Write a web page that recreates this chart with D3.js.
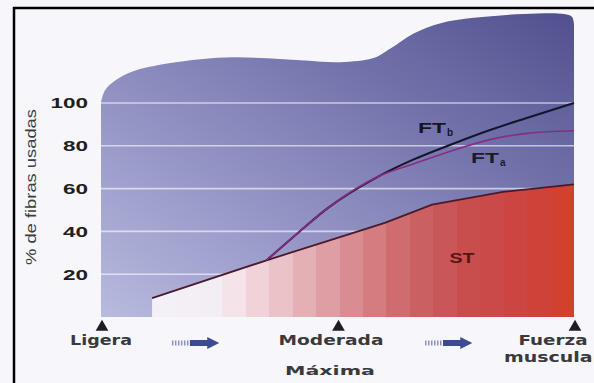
<!DOCTYPE html>
<html><head><meta charset="utf-8">
<script src="https://cdn.jsdelivr.net/npm/d3@7"></script>
<style>body{margin:0;background:#f7f7fb}svg{display:block}</style>
</head><body><script>
const W = 594, H = 383;

// % de fibras usadas, eje vertical
const yTicks = [20, 40, 60, 80, 100];
// Intensidad del esfuerzo (0 = ligera, 50 = moderada, 100 = fuerza máxima)
const effortLevels = [0, 50, 100];
const effortLabels = [["Ligera"], ["Moderada"], ["Fuerza", "muscular"]];
const effortArrows = [[15, 25], [68.5, 78.5]];

// Reclutamiento acumulado por tipo de fibra [intensidad, %]
const stData  = [[10.8, 8.8], [35, 26.5], [50, 37], [60, 44], [70, 52.5], [85, 58.5], [100, 62]];
const ftaData = [[35, 26.5], [42, 40], [48, 51], [58.5, 65.5], [66, 71.5], [73.9, 77.5], [82.4, 83], [90, 85.8], [100, 87]];
const ftbData = [[35, 26.5], [42, 40], [48, 51], [58.5, 65.5], [66, 73.5], [73.9, 80.5], [82.4, 87.5], [90, 93], [100, 100]];

// Contorno superior del fondo morado [intensidad, %]
const blobTop = [[0, 100.5], [0.85, 106], [3, 110.5], [6.8, 114.8], [14, 118.4], [21, 120.5], [28, 121.4],
  [35.2, 120.9], [42.2, 120], [50.6, 119.1], [57.6, 121], [61.2, 125.5], [66.1, 132.5], [71.8, 137.3],
  [78.8, 139.8], [89.4, 141.6], [97.9, 141.6], [99.6, 140.2], [100, 136.7]];

// Colores de las franjas del área ST, de izquierda a derecha
const stBands = ["#f3f1f7", "#f3eff5", "#f3eef4", "#f4e4ea", "#f0d2d8", "#eac2c8", "#e4b0b6", "#de9ea4",
  "#d98d92", "#d47c80", "#cf6c70", "#cb6062", "#c95658", "#c84e4e", "#c94a48", "#cb4642", "#ce423a", "#d2402f"];

const svg = d3.select("body").append("svg").attr("width", W).attr("height", H);

const x = d3.scaleLinear().domain([0, 100]).range([101, 574]);
const y = d3.scaleLinear().domain([0, 100]).range([317, 103]);

const defs = svg.append("defs");
const pg = defs.append("linearGradient").attr("id", "purple")
  .attr("x1", 1).attr("y1", 0).attr("x2", 0).attr("y2", 1);
pg.append("stop").attr("offset", 0).attr("stop-color", "#50508f");
pg.append("stop").attr("offset", 0.45).attr("stop-color", "#8080b6");
pg.append("stop").attr("offset", 1).attr("stop-color", "#b8badf");

const rg = defs.append("linearGradient").attr("id", "red")
  .attr("gradientUnits", "userSpaceOnUse")
  .attr("x1", x(stData[0][0])).attr("x2", x(100)).attr("y1", 0).attr("y2", 0);
stBands.forEach((c, i) => {
  rg.append("stop").attr("offset", i / stBands.length).attr("stop-color", c);
  rg.append("stop").attr("offset", (i + 1) / stBands.length).attr("stop-color", c);
});

// Marco
svg.append("rect").attr("x", 0).attr("y", 0).attr("width", W).attr("height", H).attr("fill", "#f7f7fb");
svg.append("path").attr("d", `M14,${H}V8H${W}`).attr("fill", "none").attr("stroke", "#000").attr("stroke-width", 2.5);

// Fondo morado
const topLine = d3.line().x(d => x(d[0])).y(d => y(d[1])).curve(d3.curveCatmullRom);
svg.append("path")
  .attr("d", topLine(blobTop) + `L${x(100)},${y(0)}L${x(0)},${y(0)}Z`)
  .attr("fill", "url(#purple)");

// Líneas de referencia
svg.append("g").selectAll("line").data(yTicks).join("line")
  .attr("x1", x(0)).attr("x2", x(100))
  .attr("y1", d => y(d)).attr("y2", d => y(d))
  .attr("stroke", "#ffffff").attr("stroke-opacity", 0.6).attr("stroke-width", 1.6);

// Área ST
const area = d3.area().x(d => x(d[0])).y0(y(0)).y1(d => y(d[1]));
svg.append("path").datum(stData).attr("d", area).attr("fill", "url(#red)");

const line = d3.line().x(d => x(d[0])).y(d => y(d[1]));
const curve = d3.line().x(d => x(d[0])).y(d => y(d[1])).curve(d3.curveMonotoneX);

svg.append("path").datum(stData).attr("d", line)
  .attr("fill", "none").attr("stroke", "#4a1a2a").attr("stroke-width", 1.8);
svg.append("path").datum(ftbData).attr("d", curve)
  .attr("fill", "none").attr("stroke", "#15152a").attr("stroke-width", 2);
svg.append("path").datum(ftaData).attr("d", curve)
  .attr("fill", "none").attr("stroke", "#8a2c80").attr("stroke-width", 1.6);

// Etiquetas de las curvas
function fiberLabel(xPos, yPos, sub, fill) {
  svg.append("text").attr("x", xPos).attr("y", yPos).text("FT")
    .attr("font-family", "Liberation Sans, Arial, sans-serif").attr("font-weight", "bold")
    .attr("font-size", 15).attr("fill", fill)
    .attr("textLength", 28).attr("lengthAdjust", "spacingAndGlyphs");
  svg.append("text").attr("x", xPos + 29).attr("y", yPos + 3).text(sub)
    .attr("font-family", "Liberation Sans, Arial, sans-serif").attr("font-weight", "bold")
    .attr("font-size", 10).attr("fill", fill);
}
fiberLabel(418, 133, "b", "#16161e");
fiberLabel(471, 163, "a", "#1e1a2e");
svg.append("text").attr("x", 462).attr("y", 263).attr("text-anchor", "middle").text("ST")
  .attr("font-family", "Liberation Sans, Arial, sans-serif").attr("font-weight", "bold")
  .attr("font-size", 14).attr("fill", "#5a1214")
  .attr("textLength", 25).attr("lengthAdjust", "spacingAndGlyphs");

// Eje vertical
svg.append("g").selectAll("text").data(yTicks).join("text")
  .attr("x", 88).attr("y", d => y(d)).attr("dy", "0.36em")
  .attr("text-anchor", "end").text(d => d)
  .attr("font-family", "Liberation Sans, Arial, sans-serif").attr("font-weight", "bold")
  .attr("font-size", 15).attr("fill", "#221e1e")
  .attr("textLength", d => String(d).length * 12.5).attr("lengthAdjust", "spacingAndGlyphs");

svg.append("text")
  .attr("transform", "translate(36,187) rotate(-90)")
  .attr("text-anchor", "middle").text("% de fibras usadas")
  .attr("font-family", "Liberation Sans Narrow, Arial Narrow, sans-serif")
  .attr("font-size", 15).attr("fill", "#3c3c44")
  .attr("textLength", 156).attr("lengthAdjust", "spacingAndGlyphs");

// Eje horizontal: marcas, etiquetas y flechas
const tri = d3.symbol(d3.symbolTriangle).size(70);
svg.append("g").selectAll("path").data(effortLevels).join("path")
  .attr("d", tri).attr("transform", d => `translate(${x(d) + 1},${327})`)
  .attr("fill", "#1e1e22");

const labelFont = "DejaVu Sans, Verdana, sans-serif";
const labelWidths = { "Ligera": 62, "Moderada": 105, "Fuerza": 69, "muscular": 98, "Máxima": 90 };
effortLevels.forEach((lv, i) => {
  effortLabels[i].forEach((t, j) => {
    const cx = i === 2 ? 553 : i === 1 ? 331 : x(lv);
    svg.append("text").attr("x", cx).attr("y", 345 + j * 17)
      .attr("text-anchor", "middle").text(t)
      .attr("font-family", labelFont).attr("font-weight", 600).attr("font-size", 14).attr("fill", "#3a3a3e")
      .attr("textLength", labelWidths[t]).attr("lengthAdjust", "spacingAndGlyphs");
  });
});
svg.append("text").attr("x", 330).attr("y", 375).attr("text-anchor", "middle").text("Máxima")
  .attr("font-family", labelFont).attr("font-weight", 600).attr("font-size", 13).attr("fill", "#3a3a3e")
  .attr("textLength", labelWidths["Máxima"]).attr("lengthAdjust", "spacingAndGlyphs");

effortArrows.forEach(([a, b]) => {
  const x0 = x(a), x1 = x(b), ym = 343;
  const g = svg.append("g");
  g.append("line").attr("x1", x0).attr("x2", x0 + 20).attr("y1", ym).attr("y2", ym)
    .attr("stroke", "#8a90c4").attr("stroke-width", 5).attr("stroke-dasharray", "1.5,1.5");
  g.append("rect").attr("x", x0 + 18).attr("y", ym - 3).attr("width", x1 - x0 - 28).attr("height", 6)
    .attr("fill", "#3e4a92");
  g.append("path").attr("d", `M${x1 - 12},${ym - 6}L${x1},${ym}L${x1 - 12},${ym + 6}Z`)
    .attr("fill", "#3e4a92");
});
</script></body></html>
